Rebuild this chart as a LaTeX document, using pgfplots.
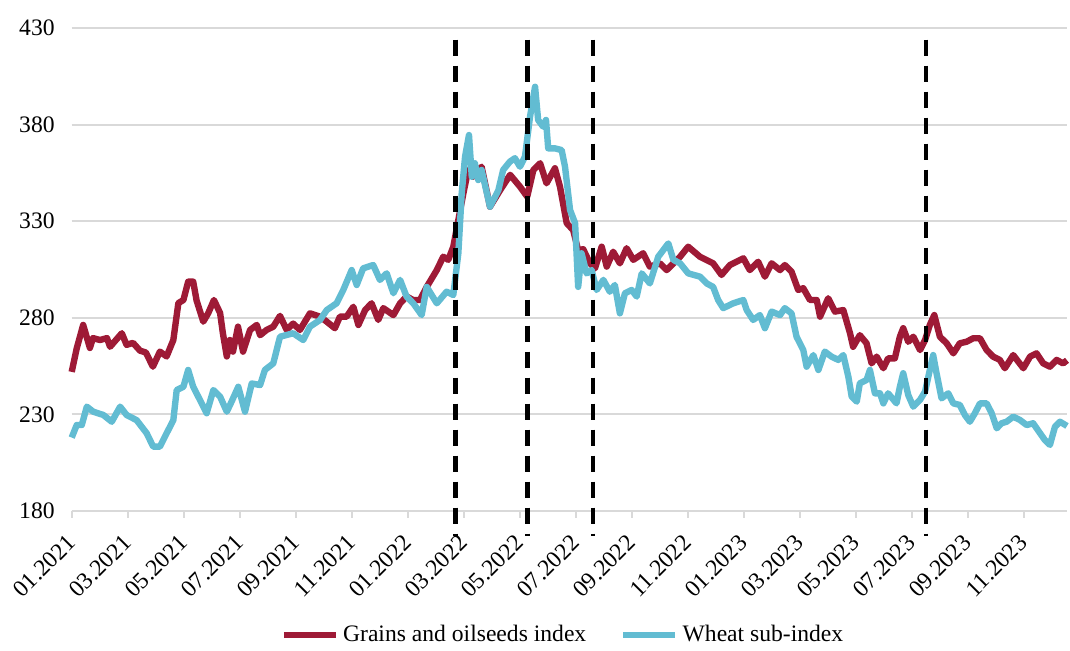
\documentclass[border=0pt]{standalone}
\usepackage{fontspec}
\setmainfont{Liberation Serif}
\usepackage{pgfplots}
\pgfplotsset{compat=1.18}
\definecolor{grainred}{HTML}{9E1A36}
\definecolor{wheatblue}{HTML}{62BCD2}
\definecolor{gridgray}{HTML}{D9D9D9}
\begin{document}
\begin{tikzpicture}
\path[use as bounding box] (-35.85pt,-70pt) rectangle (499.15pt,255.5pt);
\begin{axis}[
  at={(0,0)}, anchor=south west,
  scale only axis, width=497.65pt, height=241.5pt,
  xmin=0, xmax=35.55, ymin=180, ymax=430,
  clip=false,
  axis x line*=bottom, axis y line*=left,
  y axis line style={draw=none},
  x axis line style={gridgray, line width=1pt, -},
  ytick={180,230,280,330,380,430},
  ytick style={draw=none},
  ymajorgrids, grid style={gridgray, line width=1pt},
  xtick={0,2,...,34},
  xticklabels={01.2021,03.2021,05.2021,07.2021,09.2021,11.2021,01.2022,03.2022,05.2022,07.2022,09.2022,11.2022,01.2023,03.2023,05.2023,07.2023,09.2023,11.2023},
  xtick style={gridgray, line width=1pt},
  tick align=outside, major tick length=3.5pt,
  /pgf/number format/assume math mode=true,
  xticklabel style={xshift=2.3pt, yshift=-8pt, rotate=45, anchor=east, font=\fontsize{11.8}{14}\selectfont},
  yticklabel style={font=\fontsize{11.8}{14}\selectfont, xshift=-1.5pt},
  legend style={at={(0.4946,-0.2567)}, anchor=center, draw=none, fill=none,
    legend columns=-1, font=\fontsize{11.8}{14}\selectfont,
    /tikz/every even column/.append style={column sep=15pt}},
  legend image code/.code={\draw[#1, line width=3.2pt] (0pt,0pt) -- (26pt,0pt);},
]
\addplot[grainred, line width=3.2pt, line join=round] coordinates {
(0.00,252) (0.18,264.2) (0.41,276.3) (0.65,264.4) (0.76,269.5) (1.01,268.5) (1.26,269.5) (1.37,265)
(1.79,272) (1.96,266) (2.19,267) (2.44,263) (2.65,262) (2.90,254.7) (3.15,262.5) (3.39,260)
(3.63,268.5) (3.81,287.6) (3.99,289.2) (4.16,298.7) (4.34,298.7) (4.46,289) (4.70,278) (4.88,282.5)
(5.08,289.2) (5.30,282.5) (5.40,272) (5.54,260) (5.65,268.5) (5.76,262.5) (5.94,275.4) (6.12,262.5)
(6.37,273.7) (6.61,276.3) (6.73,271) (6.96,273.7) (7.20,275.4) (7.44,281) (7.68,273.7) (7.91,277)
(8.15,273.7) (8.51,282.3) (8.87,280.6) (9.11,278) (9.40,274.6) (9.58,280.6) (9.82,280.6) (10.06,285.7)
(10.24,276.3) (10.48,284) (10.71,287.5) (10.95,278.9) (11.13,285) (11.49,281.4) (11.73,287.5) (11.96,291)
(12.20,289.2) (12.44,289.2) (12.68,296) (13.04,304.7) (13.27,311.6) (13.45,310) (13.63,316.8) (13.81,330.6)
(13.99,344.4) (14.16,356.5) (14.34,353) (14.64,358.2) (14.94,337.5) (15.30,346) (15.66,354) (16.01,347.9)
(16.27,342.7) (16.49,356.5) (16.73,360) (16.96,349.6) (17.26,357.4) (17.44,347.9) (17.68,329) (17.91,325.4)
(18.09,315) (18.27,315.5) (18.51,308.2) (18.69,305.6) (18.93,316.8) (19.11,306.5) (19.34,314.2) (19.58,308.2)
(19.82,316) (20.06,310) (20.41,313.4) (20.65,306.5) (21.01,308.2) (21.25,304.7) (21.73,311.6) (22.02,316.8)
(22.44,311.6) (22.91,308.2) (23.21,302.2) (23.51,307.3) (23.99,310.8) (24.22,304.7) (24.52,309) (24.76,301.3)
(25.00,308.2) (25.30,304.7) (25.47,307.3) (25.71,303.9) (25.95,294.4) (26.13,295.3) (26.37,289.2) (26.61,289.2)
(26.73,280.6) (27.02,290.1) (27.26,283.2) (27.56,284) (27.80,272) (27.91,265) (28.15,271) (28.39,266.8)
(28.57,256.4) (28.75,259.9) (28.99,253.9) (29.16,259) (29.40,259) (29.58,270.2) (29.70,274.6) (29.88,267.6)
(30.06,270.2) (30.30,263.3) (30.48,268.5) (30.65,276.3) (30.81,281.4) (31.01,270.2) (31.25,266.8) (31.49,261.6)
(31.72,266.8) (31.96,267.6) (32.20,269.4) (32.44,269.4) (32.68,263.3) (32.91,259.9) (33.15,258.2) (33.33,253.9)
(33.63,260.7) (33.99,253.9) (34.23,259.9) (34.46,261.6) (34.70,256.4) (34.94,254.7) (35.18,258.2) (35.41,256.4)
(35.55,258)
};
\addlegendentry{Grains and oilseeds index}
\addplot[wheatblue, line width=3.2pt, line join=round] coordinates {
(0.00,218) (0.18,224.5) (0.36,224.5) (0.54,234) (0.77,231.4) (1.13,229.7) (1.43,226.2) (1.73,234)
(1.96,229.7) (2.32,227) (2.68,220.2) (2.91,213.3) (3.15,213.3) (3.39,220.2) (3.63,227) (3.75,242.6)
(3.99,244.3) (4.16,253) (4.34,244.3) (4.58,237.5) (4.82,230.6) (5.06,242.6) (5.30,239.2) (5.54,231.4)
(5.71,236.6) (5.95,244.3) (6.19,231.4) (6.43,246) (6.73,245.2) (6.90,253) (7.20,256.4) (7.44,270.2)
(7.91,272) (8.27,268.5) (8.51,275.4) (8.87,278.9) (9.11,284) (9.46,287.5) (9.70,294.4) (10.00,304.7)
(10.18,297) (10.41,305.6) (10.77,307.3) (11.01,299.6) (11.25,303) (11.49,292.7) (11.73,299.6) (11.96,291)
(12.20,287.5) (12.50,281.4) (12.68,296) (13.04,287.5) (13.39,293.5) (13.63,291.8) (13.81,313.4) (13.93,344.4)
(14.05,363.4) (14.19,374.6) (14.29,353) (14.40,360) (14.52,351.3) (14.64,356.5) (14.94,337.5) (15.24,346)
(15.41,356.5) (15.65,360.8) (15.83,362.6) (16.01,358.2) (16.19,363.4) (16.37,384.1) (16.55,399.6) (16.66,382.4)
(16.84,378.9) (16.94,382.4) (17.02,367.7) (17.26,367.7) (17.50,366.8) (17.62,358.2) (17.80,335.8) (17.98,329)
(18.09,296) (18.21,313.4) (18.39,303) (18.57,304.7) (18.75,294.4) (18.99,299.6) (19.22,293.5) (19.40,297)
(19.58,282.3) (19.76,292.7) (20.00,294.4) (20.18,291) (20.36,303) (20.65,297.8) (20.95,311.6) (21.31,318.5)
(21.49,310) (21.73,308.2) (22.02,303) (22.44,301.3) (22.68,297.8) (22.91,296) (23.09,289.2) (23.27,285)
(23.63,287.5) (23.99,289.2) (24.11,284) (24.34,278.9) (24.58,281.4) (24.76,274.6) (25.00,283.2) (25.30,281.4)
(25.47,285) (25.71,282.3) (25.89,270.2) (26.13,263.3) (26.25,254.7) (26.49,260.7) (26.67,253) (26.90,262.5)
(27.14,259.9) (27.38,258.2) (27.56,260.7) (27.74,249.5) (27.86,239.2) (28.04,236.6) (28.15,246.1) (28.39,247.8)
(28.51,253) (28.69,240.9) (28.87,240.9) (28.99,235.7) (29.16,240.9) (29.46,235.7) (29.58,244.3) (29.70,251.3)
(29.88,240) (30.06,234) (30.30,237.5) (30.48,241.8) (30.65,253) (30.77,260.7) (30.89,251.3) (31.07,238.3)
(31.31,240.9) (31.49,235.7) (31.72,234.9) (31.90,229.7) (32.08,226.2) (32.26,230.6) (32.44,235.7) (32.68,235.7)
(32.86,230.6) (33.04,222.8) (33.21,225.4) (33.39,226.2) (33.63,228.8) (33.87,227.1) (34.11,224.5) (34.34,225.4)
(34.59,220.2) (34.76,216.7) (34.94,214.2) (35.12,223.6) (35.30,226.2) (35.55,224)
};
\addlegendentry{Wheat sub-index}
\addplot[black, line width=2.1pt, dash pattern=on 8pt off 5pt, forget plot] coordinates {(13.71,424) (13.71,167)};
\addplot[black, line width=2.1pt, dash pattern=on 8pt off 5pt, forget plot] coordinates {(16.28,424) (16.28,167)};
\addplot[black, line width=2.1pt, dash pattern=on 8pt off 5pt, forget plot] coordinates {(18.63,424) (18.63,167)};
\addplot[black, line width=2.1pt, dash pattern=on 8pt off 5pt, forget plot] coordinates {(30.50,424) (30.50,167)};
\end{axis}
\end{tikzpicture}
\end{document}
